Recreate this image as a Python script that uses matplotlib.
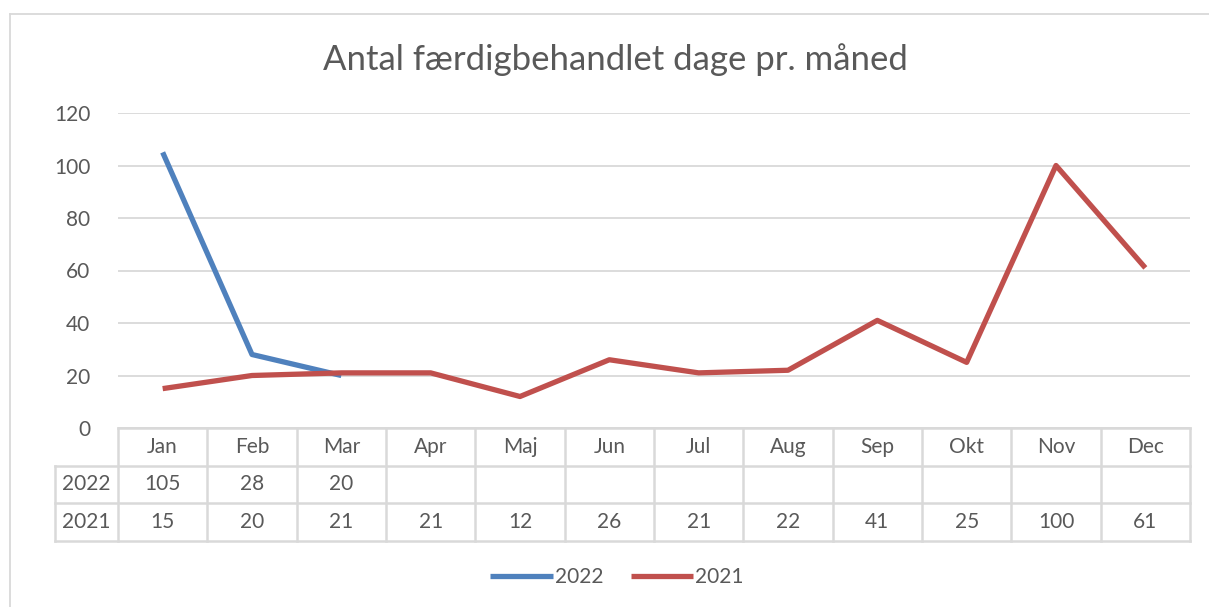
import matplotlib.pyplot as plt
from matplotlib.lines import Line2D

# Data
months = ['Jan', 'Feb', 'Mar', 'Apr', 'Maj', 'Jun', 'Jul', 'Aug', 'Sep', 'Okt', 'Nov', 'Dec']
values_2022 = [105, 28, 20]
values_2021 = [15, 20, 21, 21, 12, 26, 21, 22, 41, 25, 100, 61]
y_ticks = [0, 20, 40, 60, 80, 100, 120]

blue = '#4F81BD'
red = '#C0504D'
grey_text = '#595959'
grid_col = '#D9D9D9'

plt.rcParams['font.family'] = ['Lato', 'DejaVu Sans']

W, H = 1209, 607
fig = plt.figure(figsize=(W / 100, H / 100), dpi=100)

def px(x0, y0, x1, y1):
    # convert pixel box (top-left origin) to figure fraction
    return [x0 / W, 1 - y1 / H, (x1 - x0) / W, (y1 - y0) / H]

# outer chart border
fig.add_artist(Line2D([10 / W, 1], [1 - 14 / H, 1 - 14 / H], color=grid_col, lw=1.3))
fig.add_artist(Line2D([10 / W, 10 / W], [0, 1 - 14 / H], color=grid_col, lw=1.3))

# main plot
ax = fig.add_axes(px(118, 113, 1190, 428))
x = list(range(len(months)))
ax.plot(x[:len(values_2022)], values_2022, color=blue, lw=3.8, solid_capstyle='butt', label='2022')
ax.plot(x, values_2021, color=red, lw=3.8, solid_capstyle='butt', label='2021')
ax.set_xlim(-0.5, len(months) - 0.5)
ax.set_ylim(0, 120)
ax.set_yticks(y_ticks)
ax.set_yticklabels([str(v) for v in y_ticks], fontsize=15, color=grey_text)
ax.set_xticks([])
ax.yaxis.grid(True, color=grid_col, lw=1.3)
ax.set_axisbelow(True)
for s in ax.spines.values():
    s.set_visible(False)
ax.tick_params(axis='y', length=0, pad=20)

# data table below the plot
col_w = (1190 - 118) / 12
tab = fig.add_axes(px(55, 428, 1190, 541))
left = -0.5 - (118 - 55) / col_w
tab.set_xlim(left, len(months) - 0.5)
tab.set_ylim(3, 0)
tab.axis('off')
lc = dict(color=grid_col, lw=1.8, clip_on=False)
# horizontal lines
tab.plot([-0.5, 11.5], [0, 0], **lc)
for r in (1, 2, 3):
    tab.plot([left, 11.5], [r, r], **lc)
# vertical lines
tab.plot([left, left], [1, 3], **lc)
for i in range(len(months) + 1):
    tab.plot([i - 0.5, i - 0.5], [0, 3], **lc)

fs = 15
for i, m in enumerate(months):
    tab.text(i, 0.5, m, ha='center', va='center', fontsize=fs, color=grey_text)
tab.text((left - 0.5) / 2, 1.5, '2022', ha='center', va='center', fontsize=fs, color=grey_text)
tab.text((left - 0.5) / 2, 2.5, '2021', ha='center', va='center', fontsize=fs, color=grey_text)
for i, v in enumerate(values_2022):
    tab.text(i, 1.5, str(v), ha='center', va='center', fontsize=fs, color=grey_text)
for i, v in enumerate(values_2021):
    tab.text(i, 2.5, str(v), ha='center', va='center', fontsize=fs, color=grey_text)

fig.text(615 / W, 1 - 60 / H, 'Antal færdigbehandlet dage pr. måned', ha='center', va='center',
         fontsize=25, color=grey_text)

fig.legend(handles=ax.get_lines(), loc='center', bbox_to_anchor=(617 / W, 1 - 577 / H),
           ncol=2, frameon=False, fontsize=15, labelcolor=grey_text, handlelength=3.0,
           handletextpad=0.1, columnspacing=1.3)

fig.savefig('out.png', dpi=100)
